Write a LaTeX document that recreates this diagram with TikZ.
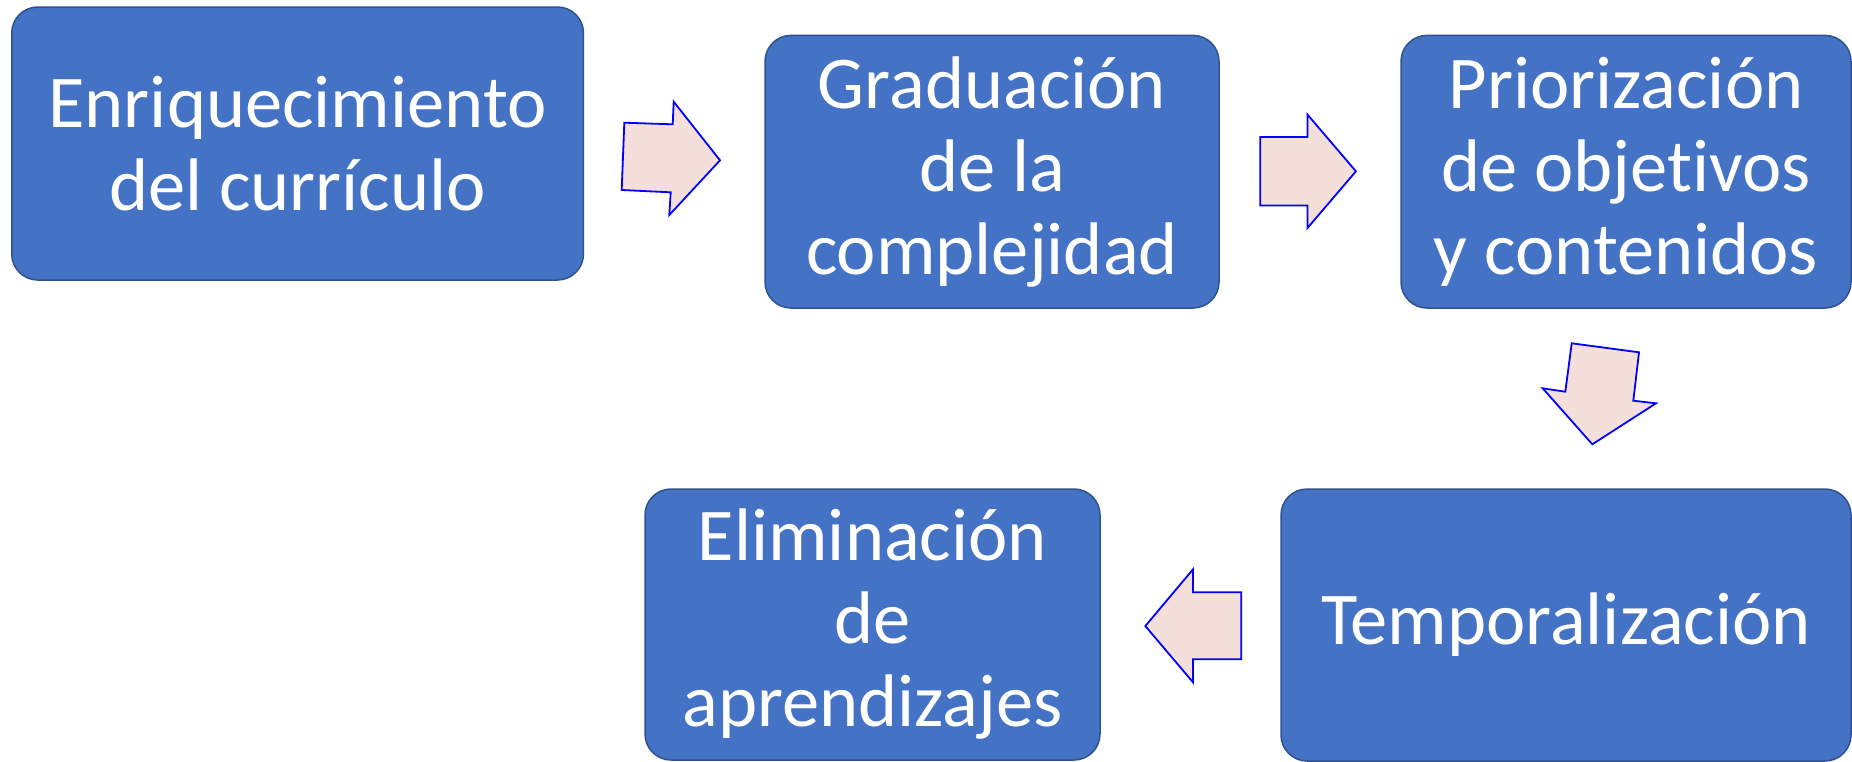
\documentclass[tikz,border=0pt]{standalone}
\usepackage{fontspec}
\setmainfont{Carlito}[Ligatures=NoCommon]
\definecolor{boxblue}{HTML}{4472C4}
\definecolor{boxedge}{HTML}{2F528F}
\definecolor{arrowfill}{HTML}{F4DFDA}
\definecolor{arrowedge}{HTML}{0000FF}
\begin{document}
\begin{tikzpicture}[x=1pt,y=-1pt,
  stagebox/.style={draw=boxedge, line width=1.5pt, fill=boxblue, rounded corners=26pt,
    text=white, align=center, inner sep=0pt,
    font=\fontsize{74.5}{83}\selectfont},
  blockarrow/.style={draw=arrowedge, line width=1.8pt, fill=arrowfill, line join=miter}]
\useasboundingbox (0,0) rectangle (1852,761);
\node[stagebox, minimum width=571.7pt, minimum height=273pt] (b1) at (297.6,143.5) {Enriquecimiento\\del currículo};
\node[stagebox, minimum width=454pt, minimum height=272.6pt] (b2) at (992,171.7) {Graduación\\de la\\complejidad};
\node[stagebox, minimum width=450pt, minimum height=272.6pt] (b3) at (1626,171.7) {Priorización\\de objetivos\\y contenidos};
\node[stagebox, minimum width=570pt, minimum height=272pt] (b4) at (1566,625) {Temporalización};
\node[stagebox, minimum width=455pt, minimum height=271pt] (b5) at (872.5,624.5) {Eliminación\\de\\aprendizajes};
% block arrows
\draw[blockarrow] (624.3,122.7) -- (672.7,124.3) -- (673.7,101.7) -- (720,160.3) -- (669.3,215) -- (670.7,192.3) -- (621.7,190) -- cycle;
\draw[blockarrow] (1260.2,137) -- (1307.5,137) -- (1307.5,114.6) -- (1355.9,171.3) -- (1307.5,228) -- (1307.5,205.5) -- (1260.2,205.5) -- cycle;
\draw[blockarrow] (1571.7,343.3) -- (1639,352.3) -- (1633.3,400.7) -- (1656,403.3) -- (1592.3,444.3) -- (1542.7,388.3) -- (1565.3,391.7) -- cycle;
\draw[blockarrow] (1241.3,592.3) -- (1193,592.3) -- (1193,569.3) -- (1145.3,626) -- (1193,682.3) -- (1193,659.3) -- (1241.3,659.3) -- cycle;
\end{tikzpicture}
\end{document}
